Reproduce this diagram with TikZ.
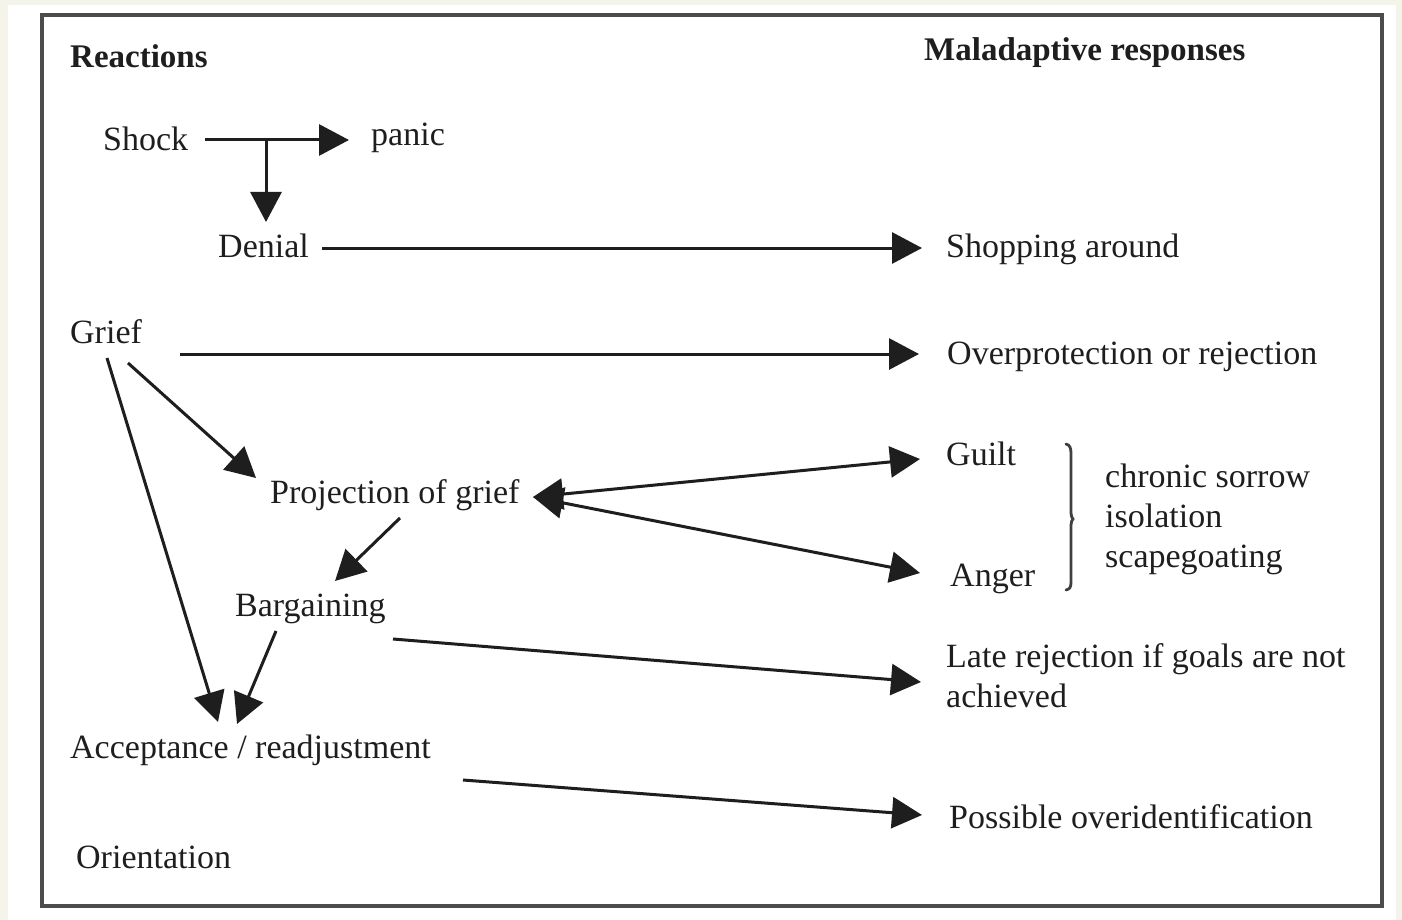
\documentclass[tikz,border=0pt]{standalone}
\usepackage{fontspec}
\setmainfont{Liberation Serif}
\usetikzlibrary{arrows.meta}
\definecolor{cream}{HTML}{F4F4EA}
\definecolor{ink}{HTML}{1E1E1E}
\begin{document}
\begin{tikzpicture}[x=1pt,y=-1pt,
  lbl/.style={anchor=base west,inner sep=0pt,text=ink,font=\fontsize{34}{40}\selectfont},
  hd/.style={lbl,font=\fontsize{33}{40}\selectfont\bfseries},
  arr/.style={draw=ink,line width=3pt,-{Triangle[length=30pt,width=31pt]}},
  dbl/.style={draw=ink,line width=3pt,{Triangle[length=30pt,width=31pt]}-{Triangle[length=30pt,width=31pt]}}]
\useasboundingbox (0,0) rectangle (1402,920);
\fill[cream] (0,0) rectangle (1402,920);
\fill[white] (8,5) rectangle (1396,920);
\draw[draw=black!70,line width=3.5pt] (42,15) rectangle (1382,906);
% headings
\node[hd] (react) at (70,68) {Reactions};
\node[hd] (mal) at (924,61) {Maladaptive responses};
% left column
\node[lbl] (shock) at (103,151) {Shock};
\node[lbl] (panic) at (371,146) {panic};
\node[lbl] (denial) at (218,257) {Denial};
\node[lbl] (grief) at (70,343) {Grief};
\node[lbl] (proj) at (270,503) {Projection of grief};
\node[lbl] (barg) at (235,616) {Bargaining};
\node[lbl] (accept) at (70,758) {Acceptance / readjustment};
\node[lbl] (orient) at (76,868) {Orientation};
% right column
\node[lbl] (shop) at (946,257) {Shopping around};
\node[lbl] (over) at (947,364) {Overprotection or rejection};
\node[lbl] (guilt) at (946,465) {Guilt};
\node[lbl] (anger) at (950,586) {Anger};
\node[lbl] (chronic) at (1105,487) {chronic sorrow};
\node[lbl] (iso) at (1105,527) {isolation};
\node[lbl] (scape) at (1105,567) {scapegoating};
\node[lbl] (late) at (946,667) {Late rejection if goals are not};
\node[lbl] (ach) at (946,707) {achieved};
\node[lbl] (poss) at (949,828) {Possible overidentification};
% connector end points
\coordinate (s1) at (205,140); \coordinate (s2) at (349,140);
\coordinate (br) at (266,140); \coordinate (d0) at (266,222);
\coordinate (de1) at (322,248); \coordinate (de2) at (922,248);
\coordinate (g1) at (180,354); \coordinate (g2) at (919,354);
\coordinate (g3) at (128,363); \coordinate (p0) at (256,478);
\coordinate (g4) at (107,358); \coordinate (a0) at (218,722);
\coordinate (p1) at (400,518); \coordinate (b0) at (335,581);
\coordinate (b1) at (276,631); \coordinate (a1) at (237,724);
\coordinate (b2) at (393,639); \coordinate (l0) at (921,682);
\coordinate (a2) at (463,780); \coordinate (o0) at (922,815);
\coordinate (pl) at (533,497);
\coordinate (gu) at (920,459); \coordinate (an) at (920,573);
% connectors
\draw[arr] (s1) -- (s2);
\draw[arr] (br) -- (d0);
\draw[arr] (de1) -- (de2);
\draw[arr] (g1) -- (g2);
\draw[arr] (g3) -- (p0);
\draw[arr] (g4) -- (a0);
\draw[arr] (p1) -- (b0);
\draw[arr] (b1) -- (a1);
\draw[arr] (b2) -- (l0);
\draw[arr] (a2) -- (o0);
\draw[dbl] (pl) -- (gu);
\draw[dbl] (pl) -- (an);
% bracket
\draw[draw=ink!85,line width=2.8pt,line cap=round]
  (1066,444) .. controls (1070,445) and (1071,448) .. (1071,454)
  -- (1071,513) .. controls (1071,516) and (1072,518) .. (1073,519)
  .. controls (1072,520) and (1071,522) .. (1071,525)
  -- (1071,582) .. controls (1071,587) and (1070,589) .. (1066,590);
\end{tikzpicture}
\end{document}
